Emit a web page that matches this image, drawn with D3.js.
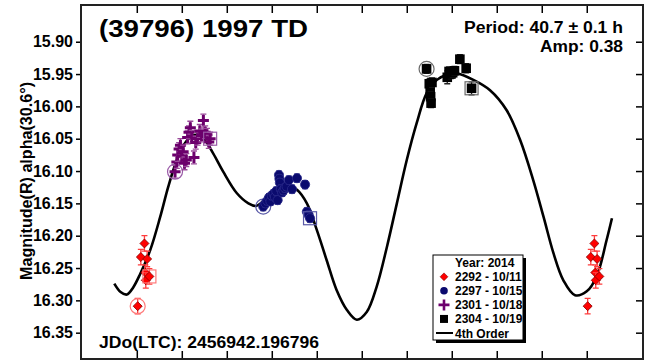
<!DOCTYPE html>
<html>
<head>
<meta charset="utf-8">
<script src="https://cdn.jsdelivr.net/npm/d3@7"></script>
<style>
  html, body { margin: 0; padding: 0; background: #fff; }
  svg { display: block; font-family: "Liberation Sans", Arial, sans-serif; font-weight: bold; }
</style>
</head>
<body>
<svg id="chart" width="657" height="364"></svg>
<script>
// ---- data ----
const title = "(39796) 1997 TD";
const periodText = "Period: 40.7 \u00b1 0.1 h";
const ampText = "Amp: 0.38";
const jdText = "JDo(LTC): 2456942.196796";
const yLabel = "Magnitude(R) alpha(30.6\u00b0)";

const yTicks = [15.90, 15.95, 16.00, 16.05, 16.10, 16.15, 16.20, 16.25, 16.30, 16.35];
const xTicks = [0, 0.1, 0.2, 0.3, 0.4, 0.5, 0.6, 0.7, 0.8, 0.9, 1.0];

// session 2292 - 10/11
const phase2292 = [0.002, 0.009, 0.017, 0.019, 0.020, 0.023, 0.028];
const mag2292   = [16.309, 16.233, 16.212, 16.257, 16.269, 16.236, 16.263];
const err2292   = [0.012, 0.012, 0.012, 0.012, 0.012, 0.012, 0.012];

// session 2297 - 10/15
const phase2297 = [0.281, 0.286, 0.290, 0.294, 0.297, 0.300, 0.304, 0.307, 0.310, 0.313, 0.316, 0.317, 0.318,
                   0.320, 0.323, 0.326, 0.329, 0.333, 0.338, 0.345, 0.356, 0.374, 0.378, 0.382, 0.385];
const mag2297   = [16.155, 16.150, 16.146, 16.141, 16.147, 16.138, 16.135, 16.140, 16.131, 16.145, 16.106, 16.112, 16.118,
                   16.128, 16.133, 16.130, 16.126, 16.124, 16.114, 16.128, 16.111, 16.121, 16.163, 16.168, 16.173];
const err2297   = [0.006, 0.006, 0.006, 0.006, 0.006, 0.006, 0.006, 0.006, 0.006, 0.006, 0.006, 0.006, 0.006,
                   0.006, 0.006, 0.006, 0.006, 0.006, 0.006, 0.006, 0.006, 0.006, 0.006, 0.006, 0.006];

// session 2301 - 10/18
const phase2301 = [0.085, 0.089, 0.091, 0.094, 0.097, 0.100, 0.103, 0.106, 0.110, 0.113, 0.116, 0.119,
                   0.122, 0.127, 0.131, 0.135, 0.140, 0.144, 0.148, 0.152, 0.156, 0.160, 0.163];
const mag2301   = [16.101, 16.086, 16.075, 16.066, 16.060, 16.077, 16.070, 16.088, 16.083, 16.048, 16.040, 16.033,
                   16.047, 16.079, 16.056, 16.050, 16.038, 16.045, 16.022, 16.040, 16.044, 16.055, 16.050];
const err2301   = [0.010, 0.010, 0.010, 0.010, 0.010, 0.010, 0.010, 0.010, 0.010, 0.010, 0.010, 0.010,
                   0.010, 0.010, 0.010, 0.010, 0.010, 0.010, 0.010, 0.010, 0.010, 0.010, 0.010];

// session 2304 - 10/19
const phase2304 = [0.644, 0.650, 0.652, 0.653, 0.654, 0.656, 0.690, 0.694, 0.698, 0.702, 0.706, 0.718, 0.732, 0.744];
const mag2304   = [15.942, 15.965, 15.975, 15.985, 15.995, 15.963, 15.955, 15.946, 15.950, 15.948, 15.945, 15.927, 15.941, 15.972];
const err2304   = [0.007, 0.007, 0.007, 0.007, 0.007, 0.007, 0.010, 0.007, 0.007, 0.007, 0.007, 0.007, 0.007, 0.010];

// 4th order Fourier fit, sampled
const fitPhase = [-0.050, -0.036, -0.022, -0.008, 0.007, 0.030, 0.052, 0.070, 0.089, 0.107, 0.122, 0.133, 0.148,
                  0.170, 0.192, 0.222, 0.248, 0.265, 0.281, 0.311, 0.341, 0.356, 0.378, 0.400, 0.422, 0.444,
                  0.467, 0.489, 0.511, 0.533, 0.556, 0.578, 0.600, 0.622, 0.644, 0.667, 0.689, 0.711, 0.748,
                  0.785, 0.822, 0.852, 0.881, 0.904, 0.926, 0.948, 0.974, 1.000, 1.022, 1.044, 1.056];
const fitMag   = [16.274, 16.287, 16.291, 16.280, 16.260, 16.222, 16.171, 16.124, 16.083, 16.057, 16.046, 16.044, 16.049,
                  16.073, 16.101, 16.134, 16.150, 16.154, 16.147, 16.132, 16.124, 16.129, 16.150, 16.191, 16.238, 16.284,
                  16.315, 16.330, 16.318, 16.279, 16.217, 16.150, 16.083, 16.026, 15.980, 15.959, 15.951, 15.949, 15.959,
                  15.975, 16.006, 16.052, 16.114, 16.171, 16.227, 16.269, 16.292, 16.286, 16.263, 16.207, 16.173];

const legendYear = "Year: 2014";
const legendLabels = ["2292 - 10/11", "2297 - 10/15", "2301 - 10/18", "2304 - 10/19"];
const fitLabel = "4th Order";

// ---- layout ----
const svg = d3.select("#chart");
const plot = { left: 81, right: 643, top: 5, bottom: 359 };

const x = d3.scaleLinear().domain([-0.124, 1.125]).range([plot.left, plot.right]);
const y = d3.scaleLinear().domain([15.8432, 16.3907]).range([plot.top, plot.bottom]);

const series = [
  { phase: phase2292, mag: mag2292, err: err2292, shape: "diamond", fill: "#ff0000", stroke: "#8b0000", errColor: "#ff3c3c", ring: "#ff7a7a" },
  { phase: phase2297, mag: mag2297, err: err2297, shape: "circle",  fill: "#0a0a6e", stroke: "#2a2a8a", errColor: "#2a2a80", ring: "#5a5aa8" },
  { phase: phase2301, mag: mag2301, err: err2301, shape: "plus",    fill: "#6c006c", stroke: "#6c006c", errColor: "#9a4a9a", ring: "#9a5aa8" },
  { phase: phase2304, mag: mag2304, err: err2304, shape: "square",  fill: "#000000", stroke: "#000000", errColor: "#222222", ring: "#6a6a6a" }
];

function drawMarker(g, shape, cx, cy, fill, stroke) {
  if (shape === "diamond") {
    g.append("path").attr("d", d3.symbol(d3.symbolSquare, 40)())
      .attr("transform", `translate(${cx},${cy}) rotate(45)`)
      .attr("fill", fill).attr("stroke", stroke).attr("stroke-width", 0.8);
  } else if (shape === "circle") {
    g.append("circle").attr("cx", cx).attr("cy", cy).attr("r", 4.6)
      .attr("fill", fill).attr("stroke", stroke).attr("stroke-width", 0.8);
  } else if (shape === "plus") {
    g.append("path").attr("d", "M-5.5,0H5.5M0,-5.5V5.5")
      .attr("transform", `translate(${cx},${cy})`)
      .attr("stroke", fill).attr("stroke-width", 3).attr("fill", "none");
  } else {
    g.append("rect").attr("x", cx - 4.8).attr("y", cy - 4.8).attr("width", 9.6).attr("height", 9.6)
      .attr("fill", fill);
  }
}

// fit curve
const line = d3.line()
  .x((d, i) => x(fitPhase[i]))
  .y((d, i) => y(fitMag[i]))
  .curve(d3.curveCatmullRom.alpha(0.5));

svg.append("path")
  .datum(fitMag)
  .attr("d", line)
  .attr("fill", "none")
  .attr("stroke", "#000")
  .attr("stroke-width", 2.6);

// data points, repeated into the wrap-around region
const pts = svg.append("g");
series.forEach(s => {
  const n = s.phase.length;
  s.phase.forEach((p, i) => {
    [0, 1, -1].forEach(off => {
      const ph = p + off;
      if (off !== 0 && (ph < -0.05 || ph > 1.05)) return;
      const cx = x(ph), cy = y(s.mag[i]);
      const y0 = y(s.mag[i] - s.err[i]), y1 = y(s.mag[i] + s.err[i]);
      const g = pts.append("g");
      g.append("path")
        .attr("d", `M${cx},${y0}V${y1}M${cx - 3},${y0}H${cx + 3}M${cx - 3},${y1}H${cx + 3}`)
        .attr("stroke", s.errColor).attr("stroke-width", 1.3).attr("fill", "none");
      if (off === 0 && i === 0) {
        g.append("circle").attr("cx", cx).attr("cy", cy).attr("r", 7.5)
          .attr("fill", "none").attr("stroke", s.ring).attr("stroke-width", 1.2);
      }
      if (off === 0 && i === n - 1) {
        g.append("rect").attr("x", cx - 6.5).attr("y", cy - 6.5).attr("width", 13).attr("height", 13)
          .attr("fill", "none").attr("stroke", s.ring).attr("stroke-width", 1.2);
      }
      drawMarker(g, s.shape, cx, cy, s.fill, s.stroke);
    });
  });
});

// axes and frame
const axisStyle = g => {
  g.select(".domain").remove();
  g.selectAll(".tick line").attr("stroke", "#000").attr("stroke-width", 1.5);
};

svg.append("g").attr("transform", `translate(${plot.left},0)`)
  .call(d3.axisLeft(y).tickValues(yTicks).tickFormat(d3.format(".2f")).tickSize(5).tickPadding(3))
  .call(axisStyle)
  .call(g => g.selectAll(".tick text").attr("fill", "#000")
    .style("font-size", "16px").style("font-weight", "bold")
    .style("font-family", '"Liberation Sans", Arial, sans-serif'));

svg.append("g").attr("transform", `translate(${plot.right},0)`)
  .call(d3.axisRight(y).tickValues(yTicks).tickSize(-7).tickFormat(""))
  .call(axisStyle);

svg.append("g").attr("transform", `translate(0,${plot.top})`)
  .call(d3.axisTop(x).tickValues(xTicks).tickSize(-8).tickFormat(""))
  .call(axisStyle);

svg.append("g").attr("transform", `translate(0,${plot.bottom})`)
  .call(d3.axisBottom(x).tickValues(xTicks).tickSize(-8).tickFormat(""))
  .call(axisStyle);

svg.append("rect")
  .attr("x", plot.left).attr("y", plot.top)
  .attr("width", plot.right - plot.left).attr("height", plot.bottom - plot.top)
  .attr("fill", "none").attr("stroke", "#222").attr("stroke-width", 2);

// texts
svg.append("text").attr("x", 99).attr("y", 37).text(title)
  .style("font-size", "23px").attr("textLength", 209).attr("lengthAdjust", "spacingAndGlyphs");

svg.append("text").attr("x", 623).attr("y", 33).attr("text-anchor", "end").text(periodText)
  .style("font-size", "16px").attr("textLength", 159).attr("lengthAdjust", "spacingAndGlyphs");

svg.append("text").attr("x", 623).attr("y", 52).attr("text-anchor", "end").text(ampText)
  .style("font-size", "16px").attr("textLength", 83).attr("lengthAdjust", "spacingAndGlyphs");

svg.append("text").attr("x", 99).attr("y", 348).text(jdText)
  .style("font-size", "17px").attr("textLength", 220).attr("lengthAdjust", "spacingAndGlyphs");

svg.append("text")
  .attr("transform", "translate(32,181) rotate(-90)")
  .attr("text-anchor", "middle")
  .style("font-size", "16px")
  .attr("textLength", 198).attr("lengthAdjust", "spacingAndGlyphs")
  .text(yLabel);

// legend
const lg = svg.append("g");
const lx = 433, ly = 255, lw = 90, lh = 85;
lg.append("rect").attr("x", lx + 3).attr("y", ly + 3).attr("width", lw).attr("height", lh).attr("fill", "#000");
lg.append("rect").attr("x", lx).attr("y", ly).attr("width", lw).attr("height", lh)
  .attr("fill", "#fff").attr("stroke", "#000").attr("stroke-width", 1);

const rowY = d3.scaleLinear().domain([0, 5]).range([262.7, 333]);
lg.append("text").attr("x", 455).attr("y", rowY(0) + 4.5).style("font-size", "12px").text(legendYear);
legendLabels.forEach((lab, i) => {
  const cy = rowY(i + 1);
  const s = series[i];
  const mk = lg.append("g");
  if (s.shape === "diamond") {
    mk.append("path").attr("d", d3.symbol(d3.symbolSquare, 30)())
      .attr("transform", `translate(444,${cy}) rotate(45)`).attr("fill", s.fill).attr("stroke", s.stroke).attr("stroke-width", 0.6);
  } else if (s.shape === "circle") {
    mk.append("circle").attr("cx", 444).attr("cy", cy).attr("r", 3.8).attr("fill", s.fill);
  } else if (s.shape === "plus") {
    mk.append("path").attr("d", `M${438.5},${cy}H${449.5}M444,${cy - 5.5}V${cy + 5.5}`)
      .attr("stroke", s.fill).attr("stroke-width", 2.6);
  } else {
    mk.append("rect").attr("x", 440).attr("y", cy - 4).attr("width", 8).attr("height", 8).attr("fill", s.fill);
  }
  lg.append("text").attr("x", 455).attr("y", cy + 4.5).style("font-size", "12px").text(lab);
});
lg.append("path").attr("d", `M436,${rowY(5)}H453`).attr("stroke", "#000").attr("stroke-width", 2);
lg.append("text").attr("x", 455).attr("y", rowY(5) + 4.5).style("font-size", "12px").text(fitLabel);
</script>
</body>
</html>
